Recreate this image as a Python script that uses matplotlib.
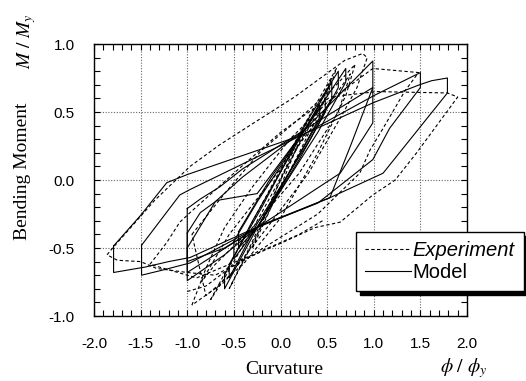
import matplotlib
matplotlib.use("Agg")
import matplotlib.pyplot as plt
from matplotlib.ticker import MultipleLocator

plt.rcParams["mathtext.fontset"] = "stix"

# ---- model hysteresis (solid), one list pair per cycle ----
m1_x = [-1.79, -1.50, -1.22, -1.00, 0.23, 1.00, 1.49, 1.62, 1.79, 1.79, 1.10, 0.53, -0.20, -0.97, -1.20, -1.45, -1.79, -1.79]
m1_y = [-0.485, -0.26, -0.02, 0.04, 0.33, 0.57, 0.70, 0.73, 0.75, 0.64, 0.05, -0.13, -0.33, -0.57, -0.60, -0.64, -0.68, -0.485]

m2_x = [-1.49, -1.08, -0.97, 0.23, 1.00, 1.50, 1.50, 1.17, 0.99, 0.40, -0.20, -0.97, -1.25, -1.49, -1.49]
m2_y = [-0.48, -0.11, -0.07, 0.33, 0.62, 0.79, 0.68, 0.38, 0.15, -0.17, -0.33, -0.61, -0.66, -0.70, -0.48]

m3_x = [-1.00, -0.86, -0.65, -0.41, 0.26, 0.99, 0.99, 0.75, 0.53, -0.25, -0.60, -1.00, -1.00]
m3_y = [-0.21, -0.14, -0.05, 0.08, 0.37, 0.875, 0.68, 0.25, -0.13, -0.35, -0.55, -0.74, -0.21]

m4_x = [-1.00, -0.70, -0.41, 0.26, 0.99, 0.99, 0.85, 0.64, -0.25, -1.00, -1.00]
m4_y = [-0.50, -0.16, 0.02, 0.37, 0.68, 0.42, 0.27, 0.05, -0.35, -0.68, -0.50]

m5_x = [-1.00, -0.86, -0.68, -0.25, 0.26, 0.55, 0.55, 0.30, -0.25, -0.60, -1.00, -1.00]
m5_y = [-0.39, -0.24, -0.15, -0.10, 0.37, 0.72, 0.60, 0.30, -0.35, -0.50, -0.60, -0.39]

m6_x = [-0.50, -0.24, 0.26, 0.48, 0.48, 0.20, -0.25, -0.50, -0.50]
m6_y = [-0.45, -0.15, 0.37, 0.59, 0.50, 0.15, -0.35, -0.58, -0.45]

m7_x = [-0.45, -0.10, 0.26, 0.42, 0.42, 0.05, -0.25, -0.45, -0.45]
m7_y = [-0.38, 0.02, 0.37, 0.55, 0.46, 0.00, -0.35, -0.50, -0.38]

m8_x = [-0.55, -0.20, 0.30, 0.62, 0.62, 0.32, -0.25, -0.55, -0.55]
m8_y = [-0.62, -0.20, 0.45, 0.80, 0.68, 0.30, -0.32, -0.72, -0.62]

m9_x = [-0.60, -0.30, 0.26, 0.70, 0.70, 0.40, -0.25, -0.60, -0.60]
m9_y = [-0.70, -0.30, 0.37, 0.82, 0.72, 0.35, -0.35, -0.80, -0.70]

model_cycles = [(m1_x, m1_y), (m2_x, m2_y), (m3_x, m3_y), (m4_x, m4_y),
                (m5_x, m5_y), (m6_x, m6_y), (m7_x, m7_y), (m8_x, m8_y),
                (m9_x, m9_y)]

# ---- experiment (dashed) ----
e1_x = [-1.86, -1.80, -1.35, -0.97, -0.65, -0.24, 0.15, 0.69, 0.88, 0.93, 0.82, 0.67, 0.30, -0.20, -0.60, -0.95]
e1_y = [-0.55, -0.50, -0.15, 0.10, 0.26, 0.44, 0.61, 0.88, 0.93, 0.90, 0.68, 0.49, 0.05, -0.40, -0.75, -0.92]

e2_x = [-0.95, -0.80, -0.60, -0.30, 0.10, 0.50, 0.99, 1.48, 1.33, 1.10, 0.96, 0.85, 0.40, -0.30, -0.90, -1.40]
e2_y = [-0.92, -0.65, -0.35, -0.05, 0.30, 0.57, 0.82, 0.79, 0.65, 0.38, 0.22, 0.05, -0.25, -0.55, -0.72, -0.62]

e3_x = [-1.40, -1.22, -1.08, -0.97, -0.50, 0.00, 0.53, 1.03, 1.79, 1.90, 1.46, 1.23, 0.99, 0.64, 0.37, 0.02, -0.35, -0.70, -1.00, -1.33, -1.50, -1.75, -1.86]
e3_y = [-0.62, -0.46, -0.31, -0.24, 0.05, 0.35, 0.61, 0.65, 0.64, 0.61, 0.20, 0.00, -0.11, -0.31, -0.35, -0.46, -0.57, -0.70, -0.68, -0.65, -0.60, -0.59, -0.55]

e4_x = [-0.75, -0.45, -0.10, 0.25, 0.60, 0.50, 0.15, -0.25, -0.60, -0.75]
e4_y = [-0.88, -0.50, -0.05, 0.40, 0.82, 0.62, 0.20, -0.30, -0.72, -0.88]

e5_x = [-0.55, -0.30, 0.00, 0.30, 0.55, 0.45, 0.20, -0.10, -0.40, -0.55]
e5_y = [-0.80, -0.45, 0.00, 0.40, 0.75, 0.55, 0.20, -0.20, -0.60, -0.80]

e6_x = [-0.30, 0.00, 0.30, 0.25, 0.00, -0.25, -0.30]
e6_y = [-0.50, -0.05, 0.45, 0.40, 0.00, -0.40, -0.50]

e7_x = [-0.95, -0.60, -0.20, 0.20, 0.60, 0.80, 0.70, 0.40, 0.00, -0.40, -0.80, -0.95]
e7_y = [-0.40, -0.10, 0.22, 0.45, 0.70, 0.85, 0.62, 0.20, -0.28, -0.62, -0.85, -0.40]

e8_x = [-0.85, -0.55, -0.15, 0.30, 0.75, 0.62, 0.20, -0.30, -0.70, -0.85]
e8_y = [-0.75, -0.40, -0.05, 0.35, 0.78, 0.50, 0.05, -0.35, -0.62, -0.75]

e9_x = [-1.00, -0.80, -0.55, -0.20, 0.20, 0.45]
e9_y = [-0.82, -0.78, -0.65, -0.52, -0.40, -0.30]

exp_cycles = [(e1_x, e1_y), (e2_x, e2_y), (e3_x, e3_y), (e4_x, e4_y),
              (e5_x, e5_y), (e6_x, e6_y), (e7_x, e7_y), (e8_x, e8_y),
              (e9_x, e9_y)]

x_ticks = [-2.0, -1.5, -1.0, -0.5, 0.0, 0.5, 1.0, 1.5, 2.0]
y_ticks = [-1.0, -0.5, 0.0, 0.5, 1.0]

W, H = 526, 381
fig = plt.figure(figsize=(W / 100, H / 100), dpi=100)
ax = fig.add_axes([94 / W, 1 - 316 / H, 373 / W, 272 / H])

dash = (0, (3.0, 2.2))
for i, (x, y) in enumerate(exp_cycles):
    ax.plot(x, y, color="black", lw=0.8, ls=dash,
            label="Experiment" if i == 0 else None)
for i, (x, y) in enumerate(model_cycles):
    ax.plot(x, y, color="black", lw=0.8, ls="-",
            label="Model" if i == 0 else None)

ax.set_xlim(-2.0, 2.0)
ax.set_ylim(-1.0, 1.0)
ax.set_xticks(x_ticks)
ax.set_yticks(y_ticks)
ax.set_xticklabels([f"{v:.1f}" for v in x_ticks])
ax.set_yticklabels([f"{v:.1f}" for v in y_ticks])
ax.xaxis.set_minor_locator(MultipleLocator(0.1))
ax.yaxis.set_minor_locator(MultipleLocator(0.1))
ax.tick_params(which="both", direction="in", top=True, right=True,
               length=4, width=0.8, color="black")
ax.tick_params(axis="x", pad=15)
ax.tick_params(axis="y", pad=14)
for lab in ax.get_xticklabels() + ax.get_yticklabels():
    lab.set_fontfamily("Liberation Sans")
    lab.set_fontsize(11)
ax.grid(True, which="major", ls=(0, (1, 1.5)), color="0.4", lw=0.8)
for s in ax.spines.values():
    s.set_linewidth(1.0)

serif = "Liberation Serif"
fig.text(23 / W, 1 - 171 / H, "Bending Moment", rotation=90, ha="center",
         va="center", family=serif, fontsize=14)
fig.text(27 / W, 1 - 41 / H, r"$M\ /\ M_y$", rotation=90, ha="center",
         va="center", fontsize=14)
fig.text(284 / W, 1 - 370 / H, "Curvature", ha="center", va="center",
         family=serif, fontsize=14)
fig.text(464 / W, 1 - 368 / H, r"$\phi\ /\ \phi_y$", ha="center",
         va="center", fontsize=14)

leg = ax.legend(loc="upper left", bbox_to_anchor=(356 / W, 1 - 232 / H),
                bbox_transform=fig.transFigure, borderaxespad=0,
                fancybox=False, edgecolor="black", framealpha=1,
                handlelength=2.3, handletextpad=0.05, borderpad=0.45,
                labelspacing=0.15,
                shadow={"color": "black", "alpha": 1, "ox": 3, "oy": -3},
                prop={"family": "Liberation Sans", "size": 14.5})
leg.get_frame().set_linewidth(1.0)
leg.get_texts()[0].set_fontstyle("italic")

fig.savefig("out.png", dpi=100)
